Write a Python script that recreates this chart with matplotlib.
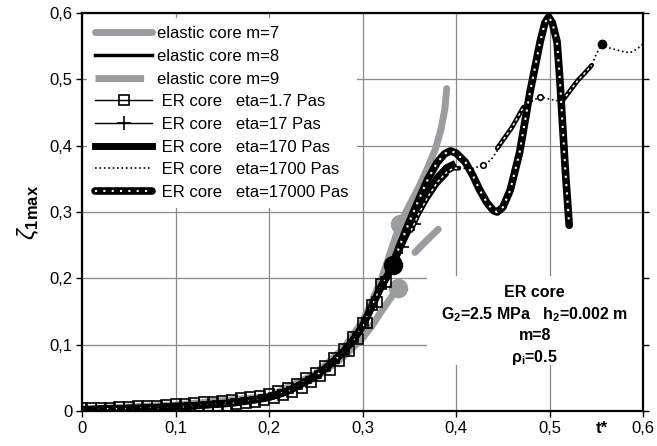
import numpy as np
import matplotlib
matplotlib.use('Agg')
import matplotlib.pyplot as plt
from matplotlib.lines import Line2D
from matplotlib.patches import Rectangle
from matplotlib.ticker import FuncFormatter

plt.rcParams['font.family'] = 'Liberation Sans'
plt.rcParams['mathtext.fontset'] = 'custom'
plt.rcParams['mathtext.rm'] = 'Liberation Sans'
plt.rcParams['mathtext.it'] = 'Liberation Sans:italic'
plt.rcParams['mathtext.bf'] = 'Liberation Sans:bold'

GRAY = '#9b9ca0'

# growth curve shared by all ER cores and the m=8 elastic core
t_main = [0.00, 0.01, 0.02, 0.03, 0.04, 0.05, 0.06, 0.07, 0.08, 0.09, 0.10, 0.11,
          0.12, 0.13, 0.14, 0.15, 0.16, 0.17, 0.18, 0.19, 0.20, 0.21, 0.22, 0.23,
          0.24, 0.25, 0.26, 0.27, 0.28, 0.29, 0.30, 0.31, 0.32, 0.33]
z_main = [0.002, 0.002, 0.003, 0.003, 0.003, 0.004, 0.004, 0.005, 0.005, 0.006, 0.007, 0.007,
          0.008, 0.009, 0.010, 0.011, 0.012, 0.014, 0.016, 0.018, 0.021, 0.025, 0.030, 0.037,
          0.045, 0.053, 0.064, 0.076, 0.090, 0.107, 0.128, 0.158, 0.188, 0.212]

# elastic cores
t_m7 = [0.00, 0.10, 0.20, 0.25, 0.28, 0.30, 0.31, 0.32, 0.33, 0.34, 0.35, 0.36, 0.37, 0.378, 0.384, 0.388, 0.390]
z_m7 = [0.003, 0.009, 0.022, 0.056, 0.095, 0.135, 0.165, 0.198, 0.240, 0.282, 0.310, 0.337, 0.368, 0.395, 0.425, 0.455, 0.486]
t_m8 = [0.34, 0.35, 0.36, 0.37, 0.38, 0.39]
z_m8 = [0.243, 0.271, 0.296, 0.320, 0.341, 0.356]
t_m9 = [0.00, 0.10, 0.20, 0.25, 0.28, 0.30, 0.31, 0.32, 0.33, 0.338, 0.347, 0.356, 0.365, 0.373, 0.381]
z_m9 = [0.002, 0.008, 0.020, 0.050, 0.082, 0.110, 0.128, 0.150, 0.170, 0.186, np.nan, 0.239, 0.252, 0.263, 0.274]

# points where the elastic solutions are marked
t_mark = [0.340, 0.333, 0.338]
z_mark = [0.282, 0.220, 0.186]

# ER core, eta = 1.7 Pas
t_er1 = [0.000, 0.005, 0.010, 0.015, 0.020, 0.025, 0.030, 0.035, 0.040, 0.045, 0.050, 0.055,
         0.060, 0.065, 0.070, 0.075, 0.080, 0.085, 0.090, 0.095, 0.100, 0.105, 0.110, 0.115,
         0.120, 0.125, 0.130, 0.135, 0.140, 0.145, 0.150, 0.155, 0.160, 0.165, 0.170, 0.175,
         0.180, 0.185, 0.190, 0.195, 0.200, 0.205, 0.210, 0.215, 0.220, 0.225, 0.230, 0.235,
         0.240, 0.245, 0.250, 0.255, 0.260, 0.265, 0.270, 0.275, 0.280, 0.285, 0.290, 0.295,
         0.300, 0.305, 0.310, 0.315, 0.320, 0.325, 0.330, 0.335]
z_er1 = [0.004, -0.003, 0.005, -0.002, 0.005, -0.002, 0.005, -0.002, 0.006, -0.001, 0.006, -0.001,
         0.007, 0.000, 0.008, 0.000, 0.008, 0.001, 0.009, 0.002, 0.010, 0.003, 0.011, 0.004,
         0.012, 0.005, 0.013, 0.006, 0.014, 0.007, 0.015, 0.008, 0.017, 0.010, 0.019, 0.012,
         0.021, 0.014, 0.023, 0.017, 0.026, 0.020, 0.030, 0.024, 0.035, 0.029, 0.041, 0.035,
         0.049, 0.043, 0.057, 0.052, 0.068, 0.062, 0.080, 0.075, 0.094, 0.090, 0.111, 0.108,
         0.132, 0.132, 0.160, 0.165, 0.192, 0.195, 0.214, 0.222]

# ER core, eta = 17 Pas (after the shared part)
t_er17 = [0.342, 0.355, 0.370, 0.385, 0.397]
z_er17 = [0.247, 0.282, 0.322, 0.352, 0.366]

# ER core, eta = 170 Pas
t_er170 = [0.34, 0.35, 0.36, 0.37, 0.38, 0.39, 0.396]
z_er170 = [0.246, 0.276, 0.303, 0.330, 0.352, 0.367, 0.371]

# ER core, eta = 1700 Pas
t_er1700 = [0.34, 0.35, 0.36, 0.37, 0.38, 0.39, 0.397, 0.405, 0.415, 0.429, 0.437, 0.444,
            0.452, 0.460, 0.466, 0.472, 0.480, 0.490, 0.500, 0.507, 0.514, 0.522, 0.530, 0.538,
            0.545, 0.550, 0.556, 0.562, 0.570, 0.578, 0.586, 0.594, 0.601]
z_er1700 = [0.245, 0.274, 0.300, 0.326, 0.347, 0.362, 0.368, 0.367, 0.364, 0.371, 0.378, 0.392,
            0.410, 0.428, 0.443, 0.458, 0.466, 0.474, 0.470, 0.468, 0.468, 0.483, 0.498, 0.510,
            0.521, 0.538, 0.553, 0.548, 0.545, 0.542, 0.540, 0.546, 0.555]
t_er1700_dots = [0.429, 0.490]
z_er1700_dots = [0.371, 0.474]
t_er1700_end = [0.556]
z_er1700_end = [0.553]

# doubled stretches along the 1700 Pas curve
t_double = [[0.352, 0.36, 0.37, 0.38, 0.39, 0.397, 0.403],
            [0.444, 0.452, 0.460, 0.466, 0.472],
            [0.514, 0.522, 0.530, 0.538, 0.545]]
z_double = [[0.272, 0.297, 0.323, 0.345, 0.360, 0.366, 0.366],
            [0.396, 0.412, 0.428, 0.443, 0.458],
            [0.468, 0.483, 0.498, 0.510, 0.521]]

# ER core, eta = 17000 Pas
t_er17000 = [0.34, 0.35, 0.36, 0.37, 0.38, 0.388, 0.394, 0.400, 0.410, 0.418, 0.425, 0.433,
             0.440, 0.444, 0.450, 0.458, 0.468, 0.479, 0.490, 0.495, 0.499, 0.503, 0.508,
             0.511, 0.514, 0.517, 0.521]
z_er17000 = [0.250, 0.285, 0.318, 0.350, 0.375, 0.388, 0.392, 0.389, 0.375, 0.355, 0.334, 0.314,
             0.302, 0.300, 0.307, 0.333, 0.390, 0.480, 0.557, 0.585, 0.594, 0.585, 0.557,
             0.500, 0.430, 0.360, 0.280]

legend_labels = ['elastic core m=7', 'elastic core m=8', 'elastic core m=9',
                 ' ER core   eta=1.7 Pas', ' ER core   eta=17 Pas', ' ER core   eta=170 Pas',
                 ' ER core   eta=1700 Pas', ' ER core   eta=17000 Pas']

fig = plt.figure(figsize=(6.57, 4.46), dpi=100)
ax = fig.add_axes([0.1248, 0.0785, 0.854, 0.8924])
ax.set_axisbelow(True)

h_m7, = ax.plot(t_m7, z_m7, color=GRAY, lw=5, solid_capstyle='round', zorder=2)
ax.plot(t_m9, z_m9, color=GRAY, lw=5, solid_capstyle='round', zorder=2)
h_m9 = Line2D([], [], color=GRAY, lw=5, dashes=(7, 3.5))
ax.plot(t_mark[0::2], z_mark[0::2], 'o', color=GRAY, ms=13, zorder=2.1)

h_er170, = ax.plot(t_main + t_er170, z_main + z_er170, color='black', lw=5, zorder=3)
h_m8, = ax.plot(t_main + t_m8, z_main + z_m8, color='black', lw=2.5, zorder=3.1)
h_er17, = ax.plot(t_main + t_er17, z_main + z_er17, color='black', lw=1, marker='+',
                  ms=10, mew=1.2, markevery=[len(t_main), len(t_main) + 1], zorder=3.2)
h_er1700, = ax.plot(t_main + t_er1700, z_main + z_er1700, color='black', lw=1.2, ls=':', zorder=3.3)
ax.plot(t_er1700_dots, z_er1700_dots, 'o', ms=4, mfc='white', mec='black', mew=1.2, zorder=3.4)
ax.plot(t_er1700_end, z_er1700_end, 'o', ms=6, color='black', zorder=3.4)
for ts, zs in zip(t_double, z_double):
    ax.plot(ts, zs, color='black', lw=3.4, solid_capstyle='round', zorder=3.5)
    ax.plot(ts, zs, color='white', lw=1, ls=(0, (2, 2)), zorder=3.6)

h_a, = ax.plot(t_main + t_er17000, z_main + z_er17000, color='black', lw=5.5,
               solid_capstyle='round', zorder=4)
h_b, = ax.plot(t_main + t_er17000, z_main + z_er17000, color='white', lw=1.5,
               ls=(0, (1, 3)), zorder=4.1)
h_er1, = ax.plot(t_er1, z_er1, color='black', lw=1, marker='s', ms=7, mfc='none',
                 mec='black', mew=1.2, zorder=4.2)
ax.plot(t_mark[1], z_mark[1], 'o', color='black', ms=13, zorder=4.3)

ax.set_xlim(0, 0.6)
ax.set_ylim(0, 0.6)
ticks = [0, 0.1, 0.2, 0.3, 0.4, 0.5, 0.6]
ax.set_xticks(ticks)
ax.set_yticks(ticks)
fmt = FuncFormatter(lambda v, p: '0' if abs(v) < 1e-9 else f'{v:.1f}'.replace('.', ','))
ax.xaxis.set_major_formatter(fmt)
ax.yaxis.set_major_formatter(fmt)
ax.tick_params(labelsize=12, length=4, width=1, direction='out', pad=3, right=True)
ax.grid(True, color='#8a8a8a', lw=0.9)
for sp in ax.spines.values():
    sp.set_linewidth(1.6)

ax.set_ylabel(r'$\zeta_{\mathbf{1max}}$', fontsize=17, labelpad=6)
ax.annotate('t*', xy=(0.556, 0), xycoords=('data', 'axes fraction'), xytext=(0, -7),
            textcoords='offset points', ha='center', va='top', fontsize=12, fontweight='bold')

# parameter box
ax.add_patch(Rectangle((0.369, 0.070), 0.231, 0.133, facecolor='white', edgecolor='none', zorder=1))
ax.text(0.484, 0.190, 'ER core\n'
        r'G$_\mathbf{2}$=2.5 MPa   h$_\mathbf{2}$=0.002 m' '\n'
        'm=8\n'
        r'ρ$_\mathbf{i}$=0.5',
        ha='center', va='top', fontsize=11.5, fontweight='bold', linespacing=1.35, zorder=5)

handles = [h_m7, h_m8, h_m9, h_er1, h_er17, h_er170, h_er1700, (h_a, h_b)]
leg = ax.legend(handles, legend_labels, loc='upper left', bbox_to_anchor=(0, 1),
                borderaxespad=0.3, fontsize=12, handlelength=3.4, handletextpad=0.3,
                labelspacing=0.46, numpoints=1, frameon=True, fancybox=False,
                framealpha=1, facecolor='white', edgecolor='none', borderpad=0.5)
leg.set_zorder(6)

fig.savefig('out.png', dpi=100)
